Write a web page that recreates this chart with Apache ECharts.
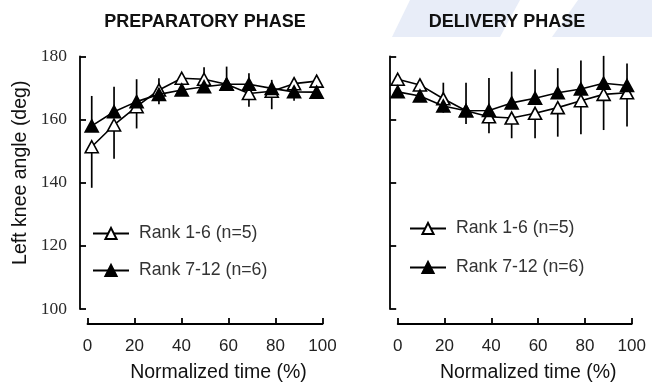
<!DOCTYPE html>
<html>
<head>
<meta charset="utf-8">
<script src="https://cdn.jsdelivr.net/npm/echarts@6/dist/echarts.min.js"></script>
<style>
  html, body { margin: 0; padding: 0; background: #ffffff; }
  #chart { width: 652px; height: 382px; }
</style>
</head>
<body>
<div id="chart"></div>
<script>
// ---- data -------------------------------------------------------------
const xTicks = [0, 20, 40, 60, 80, 100];
const yTicks = [100, 120, 140, 160, 180];
const groupNames = ['Rank 1-6 (n=5)', 'Rank 7-12 (n=6)'];
const panelTitles = ['PREPARATORY PHASE', 'DELIVERY PHASE'];
const xTitle = 'Normalized time (%)';
const yTitle = 'Left knee angle (deg)';

// Preparatory phase: mean knee angle and the one-sided SD whiskers
const prepTime = [1.8, 11.3, 20.9, 30.4, 40.1, 49.6, 59.2, 68.7, 78.4, 87.9, 97.5];
const prepRank1to6 = [151.4, 158.3, 164.1, 169.4, 173.1, 172.8, 171.2, 168.3, 169.0, 171.4, 172.2];
const prepRank1to6SdUp = [0, 0, 0, 3.7, 0, 3.8, 0, 0, 0, 0, 0];
const prepRank1to6SdDown = [13.0, 10.7, 6.9, 0, 0, 0, 0, 4.2, 5.7, 0, 0];
const prepRank7to12 = [158.0, 162.5, 165.7, 168.0, 169.4, 170.4, 171.2, 171.2, 169.9, 168.8, 168.7];
const prepRank7to12SdUp = [9.5, 7.9, 7.1, 0, 0, 0, 5.6, 3.5, 2.7, 0, 0];
const prepRank7to12SdDown = [0, 0, 0, 3.1, 0, 0, 0, 0, 0, 2.8, 0];

// Delivery phase
const delTime = [0, 9.5, 19.5, 29.2, 39.0, 48.7, 58.7, 68.4, 78.3, 88.0, 98.0];
const delRank1to6 = [172.8, 171.0, 166.6, 162.8, 160.9, 160.5, 162.0, 163.8, 166.0, 168.0, 168.5];
const delRank1to6SdUp = [0, 0, 5.1, 0, 0, 0, 0, 0, 0, 0, 0];
const delRank1to6SdDown = [0, 0, 0, 4.2, 5.2, 6.4, 7.9, 9.2, 10.6, 11.3, 10.7];
const delRank7to12 = [168.8, 167.5, 164.3, 162.8, 162.9, 165.3, 166.8, 168.5, 169.7, 171.5, 170.8];
const delRank7to12SdUp = [0, 0, 0, 8.9, 10.3, 9.9, 9.1, 7.8, 9.0, 8.7, 7.0];
const delRank7to12SdDown = [0, 0, 2.1, 0, 0, 0, 0, 0, 0, 0, 0];

// ---- helpers ----------------------------------------------------------
const SANS = '"Liberation Sans", Arial, sans-serif';
const SERIF = '"Liberation Serif", "Times New Roman", serif';
const INK = '#000000';

function points(t, m) { return t.map((x, i) => [x, m[i]]); }

// whisker segments [x, from, to]
function whiskers(t, m, up, down) {
  const out = [];
  t.forEach((x, i) => {
    if (up[i] > 0) out.push([x, m[i], m[i] + up[i]]);
    if (down[i] > 0) out.push([x, m[i] - down[i], m[i]]);
  });
  return out;
}

function whiskerSeries(idx, data) {
  return {
    type: 'custom', xAxisIndex: idx, yAxisIndex: idx, z: 1, silent: true,
    data: data,
    encode: { x: 0, y: [1, 2] },
    renderItem: (params, api) => {
      const a = api.coord([api.value(0), api.value(1)]);
      const b = api.coord([api.value(0), api.value(2)]);
      return { type: 'line', shape: { x1: a[0], y1: a[1], x2: b[0], y2: b[1] },
               style: { stroke: INK, lineWidth: 1.7 } };
    }
  };
}

function lineSeries(idx, name, data, filled) {
  return {
    type: 'line', name: name, xAxisIndex: idx, yAxisIndex: idx,
    z: filled ? 4 : 3,
    data: data,
    symbol: 'triangle', symbolSize: [13, 12], showAllSymbol: true,
    lineStyle: { color: INK, width: 1.6 },
    itemStyle: { color: filled ? INK : '#ffffff', borderColor: INK, borderWidth: 1.6 },
    emphasis: { disabled: true }
  };
}

const grids = [
  { left: 87.5, top: 56.5, width: 235, height: 252.5, outerBoundsMode: 'none' },
  { left: 397.7, top: 56.5, width: 234, height: 252.5, outerBoundsMode: 'none' }
];

function xAxisFor(idx) {
  return {
    type: 'value', gridIndex: idx, position: 'bottom',
    min: xTicks[0], max: xTicks[xTicks.length - 1],
    interval: xTicks[1] - xTicks[0], offset: 15,
    axisLine: { show: true, onZero: false, lineStyle: { color: INK, width: 1.8 } },
    axisTick: { show: true, inside: true, length: 6, lineStyle: { color: INK, width: 1.8 } },
    axisLabel: { fontFamily: SANS, fontSize: 17, color: '#222', margin: 14 },
    splitLine: { show: false },
    name: xTitle, nameLocation: 'middle', nameGap: 39,
    nameTextStyle: { fontFamily: SANS, fontSize: 19.5, color: '#111', padding: [0, 0, 0, 27] }
  };
}

function yAxisFor(idx) {
  return {
    type: 'value', gridIndex: idx, position: 'left',
    min: yTicks[0], max: yTicks[yTicks.length - 1],
    interval: yTicks[1] - yTicks[0], offset: 7.5,
    axisLine: { show: true, onZero: false, lineStyle: { color: INK, width: 1.8 } },
    axisTick: { show: true, inside: true, length: 6, lineStyle: { color: INK, width: 1.8 } },
    axisLabel: { show: idx === 0, fontFamily: SERIF, fontSize: 17.5, color: '#2a2a2a', margin: 13 },
    splitLine: { show: false },
    name: idx === 0 ? yTitle : '', nameLocation: 'middle', nameGap: 49, nameRotate: 90,
    nameTextStyle: { fontFamily: SANS, fontSize: 19.5, color: '#111', padding: [0, 0, 0, 20] }
  };
}

function legendFor(left, top, gap) {
  return {
    data: groupNames, orient: 'vertical', left: left, top: top, padding: 0,
    itemWidth: 36, itemHeight: 14, itemGap: gap, selectedMode: false,
    textStyle: { fontFamily: SANS, fontSize: 17.7, color: '#333', padding: [0, 0, 0, 5] }
  };
}

const option = {
  animation: false,
  backgroundColor: '#ffffff',
  graphic: [
    { type: 'polygon', z: -10, silent: true,
      shape: { points: [[392, 37], [410, 0], [520, 0], [500, 37]] },
      style: { fill: '#e8edf8' } },
    { type: 'polygon', z: -10, silent: true,
      shape: { points: [[552, 37], [578, 0], [652, 0], [652, 37]] },
      style: { fill: '#e8edf8' } }
  ],
  title: [
    { text: panelTitles[0], left: 205, top: 13, textAlign: 'center', padding: 0,
      textStyle: { fontFamily: SANS, fontSize: 18, fontWeight: 'bold', color: '#111' } },
    { text: panelTitles[1], left: 507, top: 13, textAlign: 'center', padding: 0,
      textStyle: { fontFamily: SANS, fontSize: 18, fontWeight: 'bold', color: '#111' } }
  ],
  legend: [legendFor(92, 224.5, 19), legendFor(409, 219.5, 21)],
  grid: grids,
  xAxis: [xAxisFor(0), xAxisFor(1)],
  yAxis: [yAxisFor(0), yAxisFor(1)],
  series: [
    whiskerSeries(0, whiskers(prepTime, prepRank1to6, prepRank1to6SdUp, prepRank1to6SdDown)),
    whiskerSeries(0, whiskers(prepTime, prepRank7to12, prepRank7to12SdUp, prepRank7to12SdDown)),
    lineSeries(0, groupNames[0], points(prepTime, prepRank1to6), false),
    lineSeries(0, groupNames[1], points(prepTime, prepRank7to12), true),
    whiskerSeries(1, whiskers(delTime, delRank1to6, delRank1to6SdUp, delRank1to6SdDown)),
    whiskerSeries(1, whiskers(delTime, delRank7to12, delRank7to12SdUp, delRank7to12SdDown)),
    lineSeries(1, groupNames[0], points(delTime, delRank1to6), false),
    lineSeries(1, groupNames[1], points(delTime, delRank7to12), true)
  ]
};

const chart = echarts.init(document.getElementById('chart'), null, { renderer: 'canvas' });
chart.setOption(option);
</script>
</body>
</html>
